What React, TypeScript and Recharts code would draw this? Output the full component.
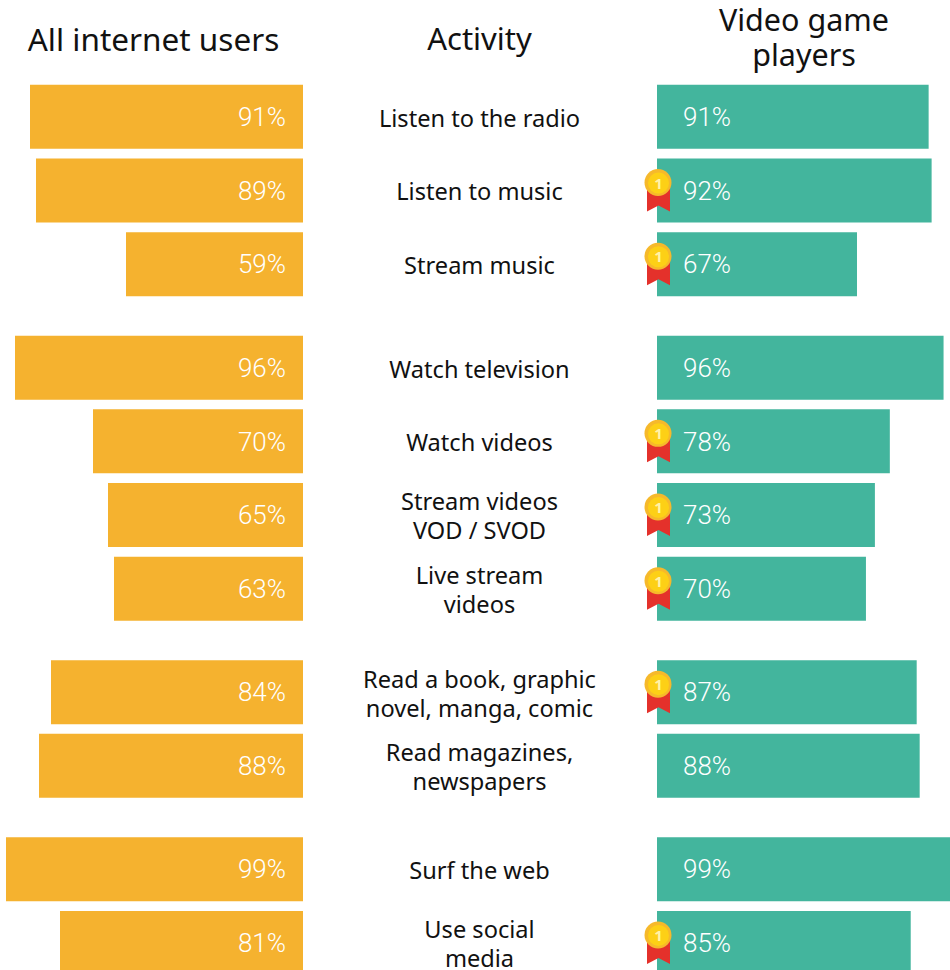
import React from "react";
import { BarChart, Bar, XAxis, YAxis, LabelList } from "recharts";

const FONT = "'Noto Sans', sans-serif";

// Activity names, one array entry per text line.
const activities: string[][] = [
  ["Listen to the radio"],
  ["Listen to music"],
  ["Stream music"],
  ["Watch television"],
  ["Watch videos"],
  ["Stream videos", "VOD / SVOD"],
  ["Live stream", "videos"],
  ["Read a book, graphic", "novel, manga, comic"],
  ["Read magazines,", "newspapers"],
  ["Surf the web"],
  ["Use social", "media"],
];
// Audio, video, reading and online activities are set apart in blocks.
const blockOf = [0, 0, 0, 1, 1, 1, 1, 2, 2, 3, 3];
const allUsers = [91, 89, 59, 96, 70, 65, 63, 84, 88, 99, 81];
const gamePlayers = [91, 92, 67, 96, 78, 73, 70, 87, 88, 99, 85];
const topRanked = [false, true, true, false, true, true, true, true, false, false, true];

const ROW_PITCH = 73.7;
const BLOCK_GAP = 29.7 / ROW_PITCH;
const FIRST_ROW_CENTER = 116.7;
const CHART_H = 970;

const rows = activities.map((_, i) => ({
  slot: i + blockOf[i] * BLOCK_GAP,
  allUsers: allUsers[i],
  gamePlayers: gamePlayers[i],
}));
const slotTicks = rows.map((r) => r.slot);
const slotDomain: [number, number] = [
  -FIRST_ROW_CENTER / ROW_PITCH,
  (CHART_H - FIRST_ROW_CENTER) / ROW_PITCH,
];

const ActivityTick = (props: any) => {
  const { x, y, index, payload } = props;
  const i = index ?? slotTicks.indexOf(payload.value);
  const lines = activities[i] ?? [];
  const lineH = 29;
  const first = y - ((lines.length - 1) * lineH) / 2 + 1;
  return (
    <text textAnchor="middle" fontFamily={FONT} fontSize={23.6} fill="#111">
      {lines.map((l, k) => (
        <tspan key={k} x={x + 168.5} y={first + k * lineH} dominantBaseline="central">
          {l}
        </tspan>
      ))}
    </text>
  );
};

const Medal = (props: any) => {
  const { x, y, height, index } = props;
  if (!topRanked[index]) return null;
  const cx = x + 1;
  const cy = y + height / 2 - 8;
  return (
    <g>
      <path
        d={`M${cx - 11} ${cy} H${cx + 12} V${cy + 29} L${cx + 0.5} ${cy + 23} L${cx - 11} ${cy + 29} Z`}
        fill="#e4312b"
      />
      <circle cx={cx} cy={cy} r={13.5} fill="#f6b92b" />
      <circle cx={cx + 0.5} cy={cy + 0.5} r={10.5} fill="#fdd016" />
      <text x={cx + 0.5} y={cy + 6} textAnchor="middle" fontFamily={FONT} fontWeight={700} fontSize={15} fill="#fff3a8">
        1
      </text>
    </g>
  );
};

const Heading = ({ lines, center, top, size }: { lines: string[]; center: number; top: number; size: number }) => (
  <div
    style={{
      position: "absolute",
      left: center - 170,
      top,
      width: 340,
      textAlign: "center",
      fontFamily: FONT,
      fontSize: size,
      lineHeight: "35px",
      color: "#111",
    }}
  >
    {lines.map((l) => (
      <div key={l}>{l}</div>
    ))}
  </div>
);

const percentStyle = { fill: "#fff", fontFamily: "Roboto, sans-serif", fontWeight: 300, fontSize: 26 };

export default function App() {
  return (
    <div style={{ position: "absolute", left: 0, top: 0, width: 950, height: CHART_H, overflow: "hidden", background: "#fff" }}>
      <Heading lines={["All internet users"]} center={153.5} top={21} size={31.5} />
      <Heading lines={["Activity"]} center={479.5} top={21} size={31} />
      <Heading lines={["Video game", "players"]} center={804} top={2} size={30.5} />

      <div style={{ position: "absolute", left: 0, top: 0 }}>
        <BarChart
          width={657}
          height={CHART_H}
          data={rows}
          layout="vertical"
          margin={{ top: 0, right: 0, bottom: 0, left: 6 }}
        >
          <XAxis type="number" dataKey="allUsers" domain={[0, 99]} reversed hide />
          <YAxis
            type="number"
            dataKey="slot"
            orientation="right"
            width={354}
            domain={slotDomain}
            ticks={slotTicks}
            axisLine={false}
            tickLine={false}
            tick={<ActivityTick />}
            interval={0}
            allowDataOverflow
          />
          <Bar dataKey="allUsers" fill="#f5b22f" barSize={64} isAnimationActive={false}>
            <LabelList
              dataKey="allUsers"
              position="insideLeft"
              offset={17}
              formatter={(v: number) => `${v}%`}
              style={percentStyle}
            />
          </Bar>
        </BarChart>
      </div>

      <div style={{ position: "absolute", left: 627, top: 0 }}>
        <BarChart
          width={340}
          height={CHART_H}
          data={rows}
          layout="vertical"
          margin={{ top: 0, right: 11.5, bottom: 0, left: 30 }}
        >
          <XAxis type="number" dataKey="gamePlayers" domain={[0, 100]} hide />
          <YAxis type="number" dataKey="slot" domain={slotDomain} hide allowDataOverflow />
          <Bar dataKey="gamePlayers" fill="#43b59d" barSize={64} isAnimationActive={false}>
            <LabelList
              dataKey="gamePlayers"
              position="insideLeft"
              offset={26}
              formatter={(v: number) => `${v}%`}
              style={percentStyle}
            />
            <LabelList dataKey="gamePlayers" content={<Medal />} />
          </Bar>
        </BarChart>
      </div>
    </div>
  );
}
